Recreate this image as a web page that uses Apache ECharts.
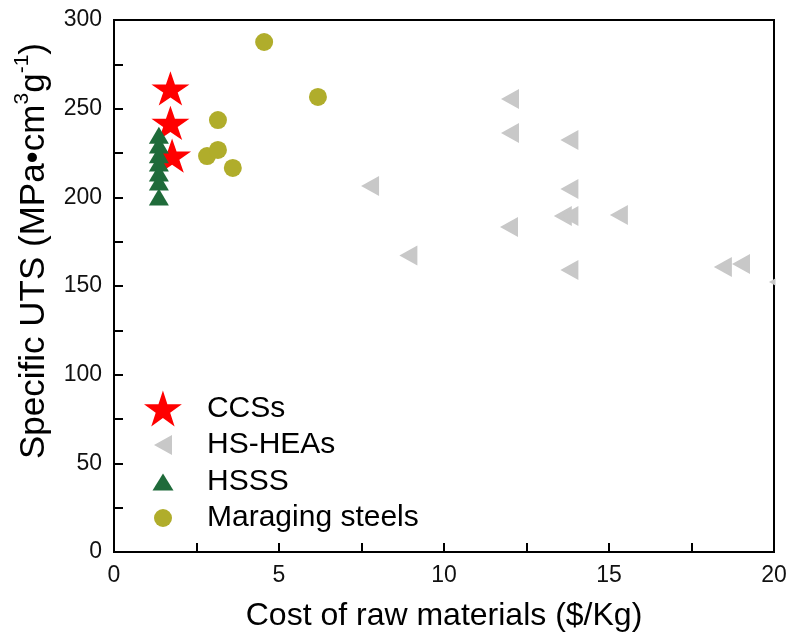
<!DOCTYPE html>
<html>
<head>
<meta charset="utf-8">
<script src="https://cdn.jsdelivr.net/npm/echarts@6/dist/echarts.min.js"></script>
<style>
  html, body { margin: 0; padding: 0; background: #fff; }
  #chart { width: 790px; height: 637px; }
</style>
</head>
<body>
<div id="chart"></div>
<script>
// Specific ultimate tensile strength vs. raw material cost
const seriesNames = ['CCSs', 'HS-HEAs', 'HSSS', 'Maraging steels'];

// [cost ($/Kg), specific UTS (MPa·cm³/g)]
const ccsData = [[1.71, 261.4], [1.71, 242.0], [1.76, 223.5]];
const hsHeaData = [
  [7.76, 206.4], [8.92, 167.2],
  [12.0, 255.5], [12.0, 236.3], [11.97, 183.3],
  [13.8, 232.4], [13.8, 204.7], [13.6, 189.5], [13.8, 189.5], [13.8, 159.0],
  [15.3, 190.0], [18.45, 160.7], [19.0, 162.4], [20.12, 152.3]
];
const hsssData = [
  [1.36, 235.0], [1.36, 229.5], [1.36, 224.0], [1.36, 219.4],
  [1.36, 213.7], [1.36, 208.6], [1.36, 200.2]
];
const maragingData = [
  [4.55, 287.6], [6.18, 256.6], [3.15, 243.6], [2.82, 223.3],
  [3.15, 226.7], [3.60, 216.6]
];

const xTicks = { min: 0, max: 20, interval: 5 };
const yTicks = { min: 0, max: 300, interval: 50 };

const FONT = '"Liberation Sans", Arial, sans-serif';
const STAR = 'path://M0,-100 L22.45,-30.9 L95.1,-30.9 L36.3,11.8 L58.8,80.9 L0,38.2 L-58.8,80.9 L-36.3,11.8 L-95.1,-30.9 L-22.45,-30.9 Z';
const LEFT_TRI = 'path://M0,10 L18,0 L18,20 Z';

const chart = echarts.init(document.getElementById('chart'), null, { renderer: 'canvas' });

function legendAt(name, top, left, w, h, textPad) {
  return {
    data: [name],
    orient: 'vertical',
    left: left,
    top: top,
    padding: 0,
    itemWidth: w,
    itemHeight: h,
    selectedMode: false,
    textStyle: {
      fontFamily: FONT, fontSize: 30, color: '#000',
      lineHeight: 30, padding: [0, 0, 0, textPad]
    }
  };
}

const axisCommon = {
  axisLine: { show: true, onZero: false, lineStyle: { color: '#000', width: 2 } },
  axisTick: { show: true, inside: true, length: 9, lineStyle: { color: '#000', width: 2 } },
  minorTick: { show: true, splitNumber: 2, length: 9, lineStyle: { color: '#000', width: 2 } },
  splitLine: { show: false },
  axisLabel: { fontFamily: FONT, fontSize: 23, color: '#111' }
};

chart.setOption({
  animation: false,
  backgroundColor: '#fff',
  grid: {
    left: 114, right: 16, top: 20, bottom: 84,
    show: true, borderColor: '#000', borderWidth: 2, backgroundColor: 'transparent'
  },
  legend: [
    legendAt('CCSs', 390.5, 144, 38, 36, 20),
    legendAt('HS-HEAs', 430, 154, 18, 21, 30),
    legendAt('HSSS', 467, 152.5, 21, 17, 28.5),
    legendAt('Maraging steels', 503, 154, 18, 18, 30)
  ],
  xAxis: Object.assign({}, axisCommon, {
    type: 'value',
    min: xTicks.min, max: xTicks.max, interval: xTicks.interval,
    name: 'Cost of raw materials ($/Kg)',
    nameLocation: 'middle',
    nameGap: 48,
    nameTextStyle: { fontFamily: FONT, fontSize: 32, color: '#000' },
    axisLabel: Object.assign({}, axisCommon.axisLabel, { margin: 12 })
  }),
  yAxis: Object.assign({}, axisCommon, {
    type: 'value',
    min: yTicks.min, max: yTicks.max, interval: yTicks.interval,
    name: '{t|Specific UTS (MPa•cm}{s|3}{t|g}{s|-1}{t|)}',
    nameLocation: 'middle',
    nameGap: 62,
    nameTextStyle: {
      fontFamily: FONT, fontSize: 35, color: '#000',
      padding: [0, 0, 0, 70],
      rich: {
        t: { fontFamily: FONT, fontSize: 35, color: '#000', lineHeight: 40, verticalAlign: 'bottom' },
        s: { fontFamily: FONT, fontSize: 21, color: '#000', lineHeight: 40, verticalAlign: 'top' }
      }
    },
    axisLabel: Object.assign({}, axisCommon.axisLabel, { margin: 12 })
  }),
  series: [
    {
      name: 'HS-HEAs', type: 'scatter', data: hsHeaData,
      symbol: LEFT_TRI, symbolSize: [18, 20], clip: false, z: 2,
      itemStyle: { color: '#c8c8c8', opacity: 1 }
    },
    {
      name: 'Maraging steels', type: 'scatter', data: maragingData,
      symbol: 'circle', symbolSize: 18, z: 3,
      itemStyle: { color: '#b0ad2b', opacity: 1 }
    },
    {
      name: 'CCSs', type: 'scatter', data: ccsData,
      symbol: STAR, symbolSize: [38, 36], symbolKeepAspect: true, z: 4,
      itemStyle: { color: '#ff0000', opacity: 1 }
    },
    {
      name: 'HSSS', type: 'scatter', data: hsssData,
      symbol: 'triangle', symbolSize: [20, 17], z: 5,
      itemStyle: { color: '#1f6b3a', opacity: 1 }
    }
  ],
  // white margin strip right of the plot frame, beside the data area only
  graphic: [{
    type: 'rect', z: 100,
    shape: { x: 775.5, y: 18, width: 20, height: 536 },
    style: { fill: '#fff' }
  }]
});
</script>
</body>
</html>
